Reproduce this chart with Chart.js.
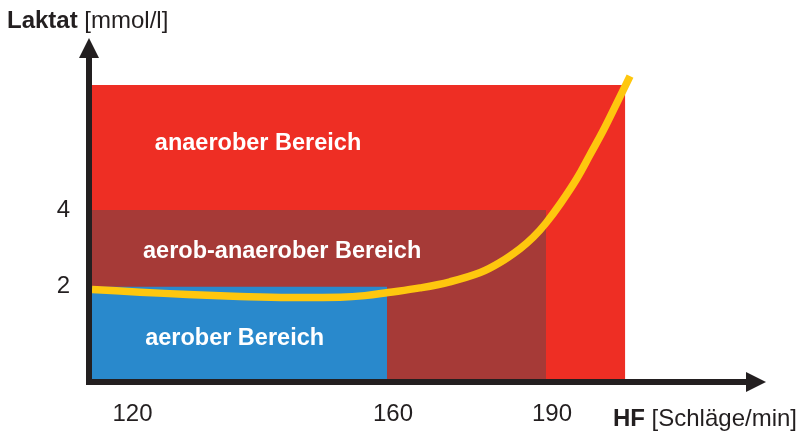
<!DOCTYPE html>
<html>
<head>
<meta charset="utf-8">
<script src="https://cdn.jsdelivr.net/npm/chart.js@4.4.1/dist/chart.umd.min.js"></script>
<style>
  html, body { margin: 0; padding: 0; background: #ffffff; }
  #wrap { width: 802px; height: 438px; position: relative; }
</style>
</head>
<body>
<div id="wrap"><canvas id="c" width="802" height="438"></canvas></div>
<script>
// ---------------- data ----------------
const zoneNames      = ['aerober Bereich', 'aerob-anaerober Bereich', 'anaerober Bereich'];
const zoneHfEnd      = [160, 190, 205];      // upper heart-rate bound of each zone
const zoneLactateTop = [2, 4, 7.25];         // upper lactate bound of each zone (mmol/l)
const hfStart        = 110;                  // heart rate at the y axis (schematic)

const curveHF      = [110, 122.1, 129.4, 137.4, 145.1, 152.8, 156.6, 160.2, 166.2, 171.9, 177.6, 181.3, 185.1, 187.6, 190, 192.8, 195.9, 198.3, 200.8, 203.4, 205.9];
const curveLactate = [1.93, 1.86, 1.80, 1.75, 1.72, 1.73, 1.77, 1.85, 1.97, 2.13, 2.37, 2.63, 2.99, 3.29, 3.66, 4.18, 4.83, 5.43, 6.06, 6.78, 7.48];

const xTickValues = [120, 160, 190];
const xTickLabels = ['120', '160', '190'];
const yTickValues = [2, 4];
const yTickLabels = ['2', '4'];

const xTitleBold = 'HF', xTitleRest = ' [Schläge/min]';
const yTitleBold = 'Laktat', yTitleRest = ' [mmol/l]';

// ---------------- styling ----------------
const FONT = "'Liberation Sans', Arial, Helvetica, sans-serif";
const INK = '#231f20';
const zoneColors = ['#2989cc', '#a63a37', '#ee2e24'];
const curveColor = '#fec70e';

// Schematic (piecewise-linear, not to scale) axis as in the original drawing
class SchematicScale extends Chart.LinearScale {
  _frac(v) {
    const kv = this.options.knotValues, kf = this.options.knotFractions;
    let i = 0;
    while (i < kv.length - 2 && v > kv[i + 1]) i++;
    return kf[i] + (v - kv[i]) / (kv[i + 1] - kv[i]) * (kf[i + 1] - kf[i]);
  }
  _unfrac(f) {
    const kv = this.options.knotValues, kf = this.options.knotFractions;
    let i = 0;
    while (i < kf.length - 2 && f > kf[i + 1]) i++;
    return kv[i] + (f - kf[i]) / (kf[i + 1] - kf[i]) * (kv[i + 1] - kv[i]);
  }
  getPixelForValue(value) {
    const f = this._frac(value);
    return this.isHorizontal() ? this.left + f * this.width : this.bottom - f * this.height;
  }
  getValueForPixel(pixel) {
    const f = this.isHorizontal() ? (pixel - this.left) / this.width : (this.bottom - pixel) / this.height;
    return this._unfrac(f);
  }
}
SchematicScale.id = 'schematic';
SchematicScale.defaults = Chart.LinearScale.defaults;
Chart.register(SchematicScale);

const datasets = [];
datasets.push({
  label: 'Laktat',
  data: curveHF.map((x, i) => ({ x, y: curveLactate[i] })),
  borderColor: curveColor,
  borderWidth: 7.5,
  borderCapStyle: 'butt',
  pointRadius: 0,
  tension: 0.4,
  fill: false,
  order: 0
});
zoneNames.forEach((name, i) => {
  datasets.push({
    label: name,
    data: [{ x: hfStart, y: zoneLactateTop[i] }, { x: zoneHfEnd[i], y: zoneLactateTop[i] }],
    fill: 'start',
    backgroundColor: zoneColors[i],
    borderColor: 'transparent',
    borderWidth: 0,
    pointRadius: 0,
    order: i + 1
  });
});

const decor = {
  id: 'decor',
  afterDatasetsDraw(chart, args, opts) {
    const { ctx, chartArea: ca, scales } = chart;
    const xs = scales.x, ys = scales.y;
    ctx.save();
    // zone labels
    ctx.fillStyle = '#ffffff';
    ctx.font = 'bold 23.5px ' + FONT;
    ctx.textAlign = 'center';
    ctx.textBaseline = 'alphabetic';
    opts.zoneLabels.forEach(l => {
      ctx.fillText(l.text, xs.getPixelForValue(l.x), ys.getPixelForValue(l.y));
    });
    // axes with arrows
    const ax = ca.left - 3, ay = ca.bottom + 3;
    ctx.strokeStyle = INK; ctx.fillStyle = INK; ctx.lineWidth = 6;
    ctx.beginPath(); ctx.moveTo(ax, ay + 3); ctx.lineTo(ax, ca.top + 18); ctx.stroke();
    ctx.beginPath(); ctx.moveTo(ax - 3, ay); ctx.lineTo(ca.right - 20, ay); ctx.stroke();
    ctx.beginPath(); ctx.moveTo(ax, ca.top + 1); ctx.lineTo(ax - 10, ca.top + 21); ctx.lineTo(ax + 10, ca.top + 21); ctx.closePath(); ctx.fill();
    ctx.beginPath(); ctx.moveTo(ca.right - 2, ay); ctx.lineTo(ca.right - 22, ay - 10); ctx.lineTo(ca.right - 22, ay + 10); ctx.closePath(); ctx.fill();
    // axis titles
    ctx.textAlign = 'left';
    ctx.fillStyle = INK;
    ctx.font = 'bold 24px ' + FONT;
    const wYB = ctx.measureText(yTitleBold).width;
    ctx.fillText(yTitleBold, 7, 28);
    ctx.font = '24px ' + FONT;
    ctx.fillText(yTitleRest, 7 + wYB, 28);
    ctx.font = 'bold 24px ' + FONT;
    const wXB = ctx.measureText(xTitleBold).width;
    ctx.font = '24px ' + FONT;
    const wXR = ctx.measureText(xTitleRest).width;
    const x0 = 797 - wXB - wXR;
    ctx.font = 'bold 24px ' + FONT;
    ctx.fillText(xTitleBold, x0, 426);
    ctx.font = '24px ' + FONT;
    ctx.fillText(xTitleRest, x0 + wXB, 426);
    ctx.restore();
  }
};

new Chart(document.getElementById('c'), {
  type: 'line',
  data: { datasets },
  plugins: [decor],
  options: {
    responsive: false,
    animation: false,
    events: [],
    layout: { padding: { left: 0, top: 37, right: 34, bottom: 0 } },
    plugins: {
      legend: { display: false },
      tooltip: { enabled: false },
      decor: {
        zoneLabels: [
          { text: zoneNames[2], x: 140.2, y: 5.56 },
          { text: zoneNames[1], x: 143.9, y: 2.76 },
          { text: zoneNames[0], x: 136.6, y: 0.49 }
        ]
      }
    },
    scales: {
      x: {
        type: 'schematic',
        min: 110, max: 232,
        knotValues: [110, 120, 160, 190, 232],
        knotFractions: [0, 0.05104, 0.43639, 0.6716, 1],
        grid: { display: false, drawTicks: false },
        border: { display: false },
        afterBuildTicks: s => { s.ticks = xTickValues.map(v => ({ value: v })); },
        afterFit: s => { s.height = 59; },
        ticks: {
          autoSkip: false, maxRotation: 0, minRotation: 0,
          padding: 21, labelOffset: 6,
          color: INK, font: { family: FONT, size: 24 },
          callback: (v, i) => xTickLabels[i]
        }
      },
      y: {
        type: 'linear',
        min: -0.4, max: 8.5,
        grid: { display: false, drawTicks: false },
        border: { display: false },
        afterBuildTicks: s => { s.ticks = yTickValues.map(v => ({ value: v })); },
        afterFit: s => { s.width = 92; },
        ticks: {
          padding: 22,
          color: INK, font: { family: FONT, size: 24 },
          callback: (v, i) => yTickLabels[i]
        }
      }
    }
  }
});
</script>
</body>
</html>
